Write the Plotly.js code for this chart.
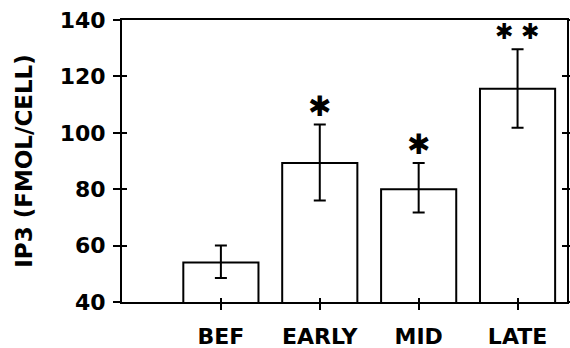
<!DOCTYPE html>
<html>
<head>
<meta charset="utf-8">
<script src="https://cdn.plot.ly/plotly-3.0.1.min.js"></script>
<style>html,body{margin:0;padding:0;background:#fff;}#chart{width:570px;height:348px;}</style>
</head>
<body>
<div id="chart"></div>
<script>
const categories = ["BEF", "EARLY", "MID", "LATE"];
const means = [54, 89.3, 80, 115.6];
const errPlus = [6, 13.6, 9.3, 14];
const errMinus = [5.5, 13.3, 8.3, 13.8];
const marks = ["", "✱", "✱", "✱ ✱"];
const markSizes = [0, 28, 28, 22];
const yTicks = [40, 60, 80, 100, 120, 140];

const FONT = "DejaVu Sans";

const bars = {
  type: "bar",
  x: categories,
  y: means,
  width: 0.76,
  marker: {color: "#ffffff", line: {color: "#000000", width: 2}},
  error_y: {type: "data", symmetric: false, array: errPlus, arrayminus: errMinus,
            color: "#000000", thickness: 2, width: 6},
  hoverinfo: "none",
  showlegend: false,
  xaxis: "x", yaxis: "y"
};

// invisible trace to activate overlay axes (for crossing tick marks)
const ghost = {
  type: "scatter", mode: "none", x: categories, y: means,
  xaxis: "x2", yaxis: "y2", showlegend: false, hoverinfo: "none"
};

const annotations = [];
categories.forEach((c, i) => {
  if (marks[i]) {
    annotations.push({
      x: c, y: means[i] + errPlus[i], xref: "x", yref: "y",
      text: marks[i], showarrow: false, yanchor: "middle", yshift: 18,
      font: {family: FONT, size: markSizes[i], weight: "bold", color: "#000"}
    });
  }
});

const layout = {
  width: 570, height: 348,
  margin: {l: 122, r: 3, t: 20, b: 46, pad: 0},
  paper_bgcolor: "#fff", plot_bgcolor: "#fff",
  font: {family: FONT, color: "#000", weight: "bold"},
  xaxis: {
    type: "category", range: [-1, 3.5],
    showline: true, linecolor: "#000", linewidth: 2, mirror: true,
    ticks: "outside", ticklen: 6, tickwidth: 2, tickcolor: "#000",
    ticklabelstandoff: 8,
    tickfont: {family: FONT, size: 22, weight: "bold", color: "#000"},
    showgrid: false, zeroline: false, fixedrange: true
  },
  yaxis: {
    range: [40, 140], tickvals: yTicks, ticktext: yTicks.map(String),
    showline: true, linecolor: "#000", linewidth: 2, mirror: "allticks",
    ticks: "outside", ticklen: 7, tickwidth: 2, tickcolor: "#000",
    ticklabelstandoff: 3,
    tickfont: {family: FONT, size: 22, weight: "bold", color: "#000"},
    showgrid: false, zeroline: false, fixedrange: true,
    title: {text: "IP3 (FMOL/CELL)", standoff: 21,
            font: {family: FONT, size: 23, weight: "bold", color: "#000"}}
  },
  xaxis2: {
    type: "category", range: [-1, 3.5], overlaying: "x", side: "bottom",
    showline: false, ticks: "inside", ticklen: 4, tickwidth: 2, tickcolor: "#000",
    showticklabels: false, showgrid: false, zeroline: false, fixedrange: true
  },
  yaxis2: {
    range: [40, 140], tickvals: yTicks, overlaying: "y", side: "left",
    showline: false, mirror: "allticks", ticks: "inside", ticklen: 5, tickwidth: 2, tickcolor: "#000",
    showticklabels: false, showgrid: false, zeroline: false, fixedrange: true
  },
  annotations: annotations,
  bargap: 0.24
};

Plotly.newPlot("chart", [bars, ghost], layout, {displayModeBar: false, staticPlot: true});
</script>
</body>
</html>
